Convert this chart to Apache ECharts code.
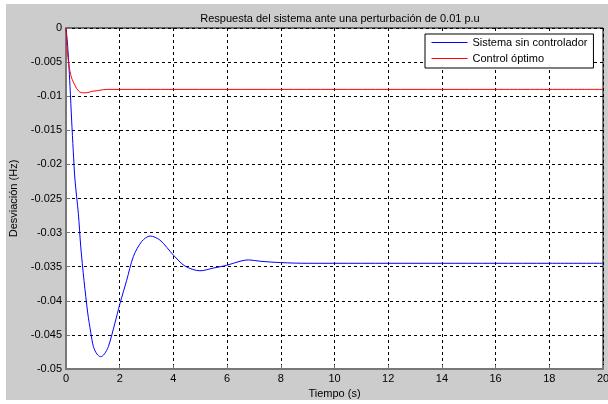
<!DOCTYPE html>
<html>
<head>
<meta charset="utf-8">
<script src="https://cdn.jsdelivr.net/npm/echarts@6/dist/echarts.min.js"></script>
<style>
  html, body { margin: 0; padding: 0; background: #fff; }
  #container { position: absolute; left: 6px; top: 4px; width: 602px; height: 396px; }
</style>
</head>
<body>
<div id="container"></div>
<script>
// time (s) and deviation (Hz)
const tBlue = [0, 0.05, 0.1, 0.15, 0.21, 0.27, 0.335, 0.46, 0.55, 0.67, 0.81, 0.92, 1.02, 1.15, 1.29, 1.43, 1.58, 1.82, 2.01, 2.26, 2.51, 2.82, 3.13, 3.5, 4.0, 4.43, 4.99, 5.49, 5.98, 6.48, 6.79, 7.23, 8, 9, 10, 12, 14, 16, 18, 20];
const vBlue = [0, -0.002, -0.005, -0.0086, -0.0135, -0.018, -0.0223, -0.0272, -0.0321, -0.037, -0.0418, -0.0446, -0.0467, -0.0478, -0.0482, -0.0478, -0.0467, -0.0433, -0.0404, -0.037, -0.0335, -0.0313, -0.0305, -0.0311, -0.0333, -0.0349, -0.0356, -0.0352, -0.0348, -0.0342, -0.034, -0.0342, -0.0344, -0.0345, -0.0345, -0.0345, -0.0345, -0.0345, -0.0345, -0.0345];

const tRed = [0, 0.03, 0.06, 0.09, 0.15, 0.2, 0.27, 0.335, 0.4, 0.52, 0.65, 0.77, 0.95, 1.14, 1.3, 1.5, 2, 4, 8, 12, 16, 20];
const vRed = [0, -0.0022, -0.0038, -0.0049, -0.0064, -0.0072, -0.0079, -0.0084, -0.0089, -0.0094, -0.0095, -0.0095, -0.0093, -0.0092, -0.0091, -0.009, -0.009, -0.009, -0.009, -0.009, -0.009, -0.009];

const seriesNames = ['Sistema sin controlador', 'Control óptimo'];
const seriesColors = ['#0000ff', '#ff0000'];
const titleText = 'Respuesta del sistema ante una perturbación de 0.01 p.u';

const pairs = (xs, ys) => xs.map((x, i) => [x, ys[i]]);

const FONT = 'Liberation Sans, Arial, sans-serif';
let myChart = echarts.init(document.getElementById('container'));

let option = {
    backgroundColor: '#cccccc',
    animation: false,
    title: {
        text: titleText,
        left: 329, top: 4, textAlign: 'center',
        textStyle: { fontFamily: FONT, fontSize: 11, fontWeight: 'normal', color: '#000' }
    },
    legend: {
        orient: 'vertical',
        left: 419, top: 30,
        backgroundColor: '#fff',
        borderColor: '#000', borderWidth: 1, borderRadius: 0,
        padding: [3, 6, 4, 6],
        itemGap: 5,
        itemWidth: 36, itemHeight: 13,
        itemStyle: { opacity: 0 },
        lineStyle: { width: 1 },
        textStyle: { fontFamily: FONT, fontSize: 11, color: '#000' },
        data: seriesNames
    },
    grid: {
        left: 60, top: 24, width: 537, height: 341,
        outerBoundsMode: 'none', containLabel: false,
        show: true, backgroundColor: '#fff', borderColor: '#000', borderWidth: 1
    },
    xAxis: {
        type: 'value', min: 0, max: 20, interval: 2,
        name: 'Tiempo (s)', nameLocation: 'middle', nameGap: 18,
        nameTextStyle: { fontFamily: FONT, fontSize: 11, color: '#000' },
        axisLine: { show: true, onZero: false, lineStyle: { color: '#777', width: 2 } },
        axisTick: { show: true, inside: true, length: 4, lineStyle: { color: '#777' } },
        axisLabel: { fontFamily: FONT, fontSize: 11, color: '#000', margin: 4 },
        splitLine: { show: true, lineStyle: { color: '#000', type: [3, 3], width: 1 } }
    },
    yAxis: {
        type: 'value', min: -0.05, max: 0, interval: 0.005,
        name: 'Desviación (Hz)', nameLocation: 'middle', nameGap: 35,
        nameTextStyle: { fontFamily: FONT, fontSize: 11, color: '#000' },
        axisLine: { show: true, onZero: false, lineStyle: { color: '#777', width: 2 } },
        axisTick: { show: true, inside: true, length: 4, lineStyle: { color: '#777' } },
        axisLabel: { fontFamily: FONT, fontSize: 11, color: '#000', margin: 4,
            formatter: v => (Math.abs(v) < 1e-12 ? '0' : String(+v.toFixed(3))) },
        splitLine: { show: true, lineStyle: { color: '#000', type: [3, 3], width: 1 } }
    },
    series: seriesNames.map((n, i) => ({
        name: n, type: 'line', symbol: 'none', smooth: 0.3,
        color: seriesColors[i],
        itemStyle: { color: seriesColors[i] },
        lineStyle: { width: 1, color: seriesColors[i] },
        data: i === 0 ? pairs(tBlue, vBlue) : pairs(tRed, vRed)
    }))
};
myChart.setOption(option);
</script>
</body>
</html>
